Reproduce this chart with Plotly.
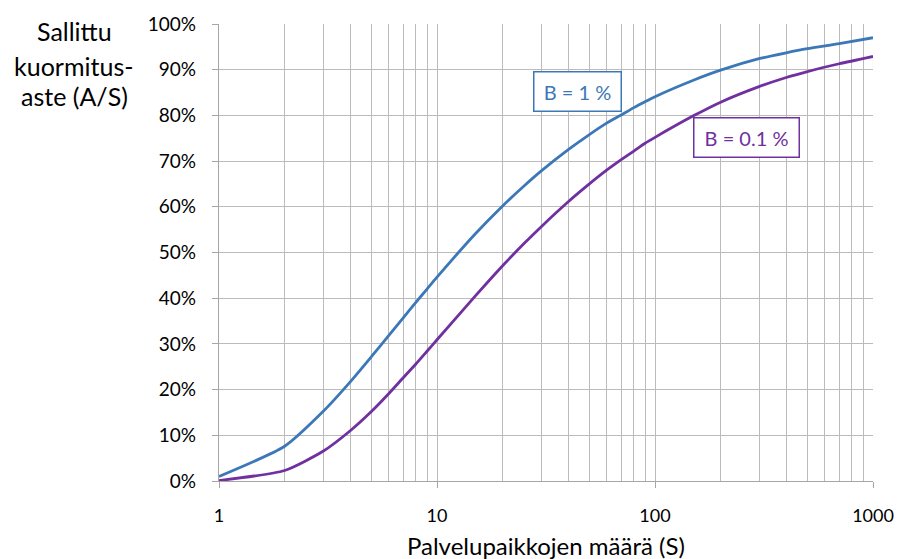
import plotly.graph_objects as go

# Number of servers S and the allowed load per server A/S (%) for two blocking levels
servers = [1, 2, 3, 4, 5, 6, 7, 8, 9, 10, 15, 20, 25, 30, 40, 50, 60, 70, 80, 90,
           100, 150, 200, 300, 400, 500, 700, 1000]
load_b1 = [1.0, 7.6, 15.2, 21.7, 27.2, 31.8, 35.7, 39.1, 42.0, 44.6, 54.1, 60.2,
           64.5, 67.8, 72.5, 75.8, 78.3, 80.1, 81.7, 83.0, 84.1, 87.7, 89.9, 92.4,
           93.7, 94.6, 95.7, 97.0]
load_b01 = [0.1, 2.3, 6.5, 11.0, 15.2, 19.1, 22.6, 25.6, 28.4, 30.9, 40.5, 47.1,
            51.9, 55.6, 61.1, 65.0, 68.0, 70.3, 72.2, 73.9, 75.2, 79.9, 82.9, 86.3,
            88.3, 89.6, 91.3, 92.9]

y_ticks = list(range(0, 101, 10))
y_tick_text = [f"{v}%" for v in y_ticks]
x_ticks = [1, 10, 100, 1000]
x_tick_text = ["1", "10", "100", "1000"]

BLUE = "#3C78B8"
PURPLE = "#7030A0"
GRID = "#BBBBBB"
AXIS = "#A6A6A6"
FONT = "Lato, Open Sans, sans-serif"

# Plot area in pixels (used to place the free-standing titles)
L, R, T, B = 219, 873, 24, 481
W, H = R - L, B - T


def px(xp):
    return (xp - L) / W


def py(yp):
    return (B - yp) / H


fig = go.Figure()
fig.add_trace(go.Scatter(x=servers, y=load_b1, mode="lines",
                         line=dict(color=BLUE, width=2.8, shape="spline", smoothing=0.6),
                         name="B = 1 %", hoverinfo="skip"))
fig.add_trace(go.Scatter(x=servers, y=load_b01, mode="lines",
                         line=dict(color=PURPLE, width=2.8, shape="spline", smoothing=0.6),
                         name="B = 0.1 %", hoverinfo="skip"))

fig.update_layout(
    width=898, height=559,
    margin=dict(l=L, r=898 - R, t=T, b=559 - B),
    paper_bgcolor="white", plot_bgcolor="white",
    showlegend=False,
    font=dict(family=FONT, color="#000000"),
    xaxis=dict(
        type="log", range=[0, 3], automargin=False,
        tickvals=x_ticks, ticktext=x_tick_text,
        tickfont=dict(size=18, color="#000"),
        ticks="outside", ticklen=6, tickcolor=AXIS, tickwidth=1.3,
        ticklabelstandoff=12,
        showgrid=True, gridcolor=GRID, gridwidth=1.3,
        minor=dict(dtick="D1", showgrid=True, gridcolor=GRID, gridwidth=1.3, ticks=""),
        showline=True, linecolor=AXIS, linewidth=1.3,
        zeroline=False,
    ),
    yaxis=dict(
        range=[0, 100], automargin=False,
        tickvals=y_ticks, ticktext=y_tick_text,
        tickfont=dict(size=19, color="#000"),
        ticks="outside", ticklen=6, tickcolor=AXIS, tickwidth=1.3,
        ticklabelstandoff=12,
        showgrid=True, gridcolor=GRID, gridwidth=1.3,
        showline=True, linecolor=AXIS, linewidth=1.3,
        zeroline=False,
    ),
)

# Series labels in bordered boxes
fig.add_annotation(text="B = 1 %", xref="paper", yref="paper",
                   x=px(577), y=py(91.5), xanchor="center", yanchor="middle",
                   showarrow=False, font=dict(size=20, color=BLUE),
                   bordercolor=BLUE, borderwidth=1.5, bgcolor="white",
                   width=86, height=38, borderpad=0, align="center")
fig.add_annotation(text="B = 0.1 %", xref="paper", yref="paper",
                   x=px(746.5), y=py(137.5), xanchor="center", yanchor="middle",
                   showarrow=False, font=dict(size=20, color=PURPLE),
                   bordercolor=PURPLE, borderwidth=1.5, bgcolor="white",
                   width=104, height=38, borderpad=0, align="center")

# Horizontal axis title
fig.add_annotation(text="Palvelupaikkojen määrä (S)", xref="paper", yref="paper",
                   x=px(546), y=py(545), xanchor="center", yanchor="middle",
                   showarrow=False, font=dict(size=24, color="#000"))

# Vertical axis title, stacked in three lines at top left
for line, ypx in [("Sallittu", 31), ("kuormitus-", 66), ("aste (A/S)", 96)]:
    fig.add_annotation(text=line, xref="paper", yref="paper",
                       x=px(74), y=py(ypx),
                       xanchor="center", yanchor="middle", showarrow=False,
                       font=dict(size=25, color="#000"))

fig.write_html("out.html")
